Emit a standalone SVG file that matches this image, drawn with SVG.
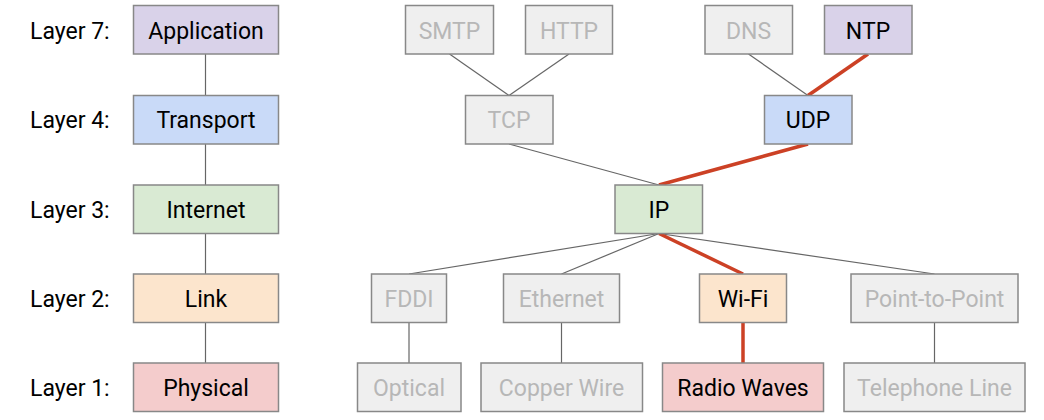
<svg xmlns="http://www.w3.org/2000/svg" width="1044" height="420" viewBox="0 0 1044 420">
<style>
.b{stroke:#888;stroke-width:1.5}
.g{fill:#efefef}
.ap{fill:#d9d2e9}.tr{fill:#c9daf8}.in{fill:#d9ead3}.li{fill:#fce5cd}.ph{fill:#f4cccc}
text{font-family:Roboto,"Liberation Sans",sans-serif;font-size:23px;text-anchor:middle}
.on{fill:#000}.off{fill:#b7b7b7}
.lab{text-anchor:start;fill:#000}
.c{stroke:#666;stroke-width:1.2;fill:none}
.r{stroke:#cc4125;stroke-width:3.5;fill:none}
</style>
<rect width="1044" height="420" fill="#fff"/>
<g id="connectors">
<line class="c" x1="205.5" y1="54" x2="205.5" y2="95.5"/>
<line class="c" x1="205.5" y1="144" x2="205.5" y2="185"/>
<line class="c" x1="205.5" y1="233.5" x2="205.5" y2="274"/>
<line class="c" x1="205.5" y1="322.5" x2="205.5" y2="363"/>
<line class="c" x1="449.5" y1="54" x2="509" y2="95.5"/>
<line class="c" x1="569" y1="54" x2="509" y2="95.5"/>
<line class="c" x1="748.5" y1="54" x2="808" y2="95.5"/>
<line class="c" x1="509" y1="144" x2="659" y2="185"/>
<line class="c" x1="659" y1="233.5" x2="409" y2="274"/>
<line class="c" x1="659" y1="233.5" x2="561.5" y2="274"/>
<line class="c" x1="659" y1="233.5" x2="934.5" y2="274"/>
<line class="c" x1="409" y1="322.5" x2="409" y2="363"/>
<line class="c" x1="561.5" y1="322.5" x2="561.5" y2="363"/>
<line class="c" x1="934.5" y1="322.5" x2="934.5" y2="363"/>
<line class="r" x1="868" y1="54" x2="808" y2="95.5"/>
<line class="r" x1="808" y1="144" x2="659" y2="185"/>
<line class="r" x1="659" y1="233.5" x2="743" y2="274"/>
<line class="r" x1="743" y1="322.5" x2="743" y2="363"/>
</g>
<g id="labels">
<text class="lab" x="30" y="38.5">Layer 7:</text>
<text class="lab" x="30" y="128">Layer 4:</text>
<text class="lab" x="30" y="217.5">Layer 3:</text>
<text class="lab" x="30" y="306.5">Layer 2:</text>
<text class="lab" x="30" y="395.5">Layer 1:</text>
</g>
<g id="application"><rect class="b ap" x="133.5" y="5.5" width="145" height="48.5"/><text class="on" x="206" y="38.5">Application</text></g>
<g id="transport"><rect class="b tr" x="133.5" y="95.5" width="145" height="48.5"/><text class="on" x="206" y="128">Transport</text></g>
<g id="internet"><rect class="b in" x="133.5" y="185" width="145" height="48.5"/><text class="on" x="206" y="217.5">Internet</text></g>
<g id="link"><rect class="b li" x="133.5" y="274" width="145" height="48.5"/><text class="on" x="206" y="306.5">Link</text></g>
<g id="physical"><rect class="b ph" x="133.5" y="363" width="145" height="48.5"/><text class="on" x="206" y="395.5">Physical</text></g>
<g id="smtp"><rect class="b g" x="405.5" y="5.5" width="88" height="48.5"/><text class="off" x="449.5" y="38.5">SMTP</text></g>
<g id="http"><rect class="b g" x="525.5" y="5.5" width="87" height="48.5"/><text class="off" x="569" y="38.5">HTTP</text></g>
<g id="dns"><rect class="b g" x="705" y="5.5" width="87.5" height="48.5"/><text class="off" x="748.5" y="38.5">DNS</text></g>
<g id="ntp"><rect class="b ap" x="824.5" y="5.5" width="87.5" height="48.5"/><text class="on" x="868" y="38.5">NTP</text></g>
<g id="tcp"><rect class="b g" x="465.5" y="95.5" width="87.5" height="48.5"/><text class="off" x="509" y="128">TCP</text></g>
<g id="udp"><rect class="b tr" x="764.5" y="95.5" width="87.5" height="48.5"/><text class="on" x="808" y="128">UDP</text></g>
<g id="ip"><rect class="b in" x="615" y="185" width="87.5" height="48.5"/><text class="on" x="659" y="217.5">IP</text></g>
<g id="fddi"><rect class="b g" x="371.5" y="274" width="75" height="48.5"/><text class="off" x="409" y="306.5">FDDI</text></g>
<g id="ethernet"><rect class="b g" x="503.5" y="274" width="116" height="48.5"/><text class="off" x="561.5" y="306.5">Ethernet</text></g>
<g id="wifi"><rect class="b li" x="699.5" y="274" width="87" height="48.5"/><text class="on" x="743" y="306.5">Wi-Fi</text></g>
<g id="ptp"><rect class="b g" x="851" y="274" width="167" height="48.5"/><text class="off" x="934.5" y="306.5">Point-to-Point</text></g>
<g id="optical"><rect class="b g" x="357.5" y="363" width="103.5" height="48.5"/><text class="off" x="409" y="395.5">Optical</text></g>
<g id="copper"><rect class="b g" x="481" y="363" width="161.5" height="48.5"/><text class="off" x="561.5" y="395.5">Copper Wire</text></g>
<g id="radio"><rect class="b ph" x="662.5" y="363" width="161" height="48.5"/><text class="on" x="743" y="395.5">Radio Waves</text></g>
<g id="telephone"><rect class="b g" x="844" y="363" width="181" height="48.5"/><text class="off" x="934.5" y="395.5">Telephone Line</text></g>
</svg>
